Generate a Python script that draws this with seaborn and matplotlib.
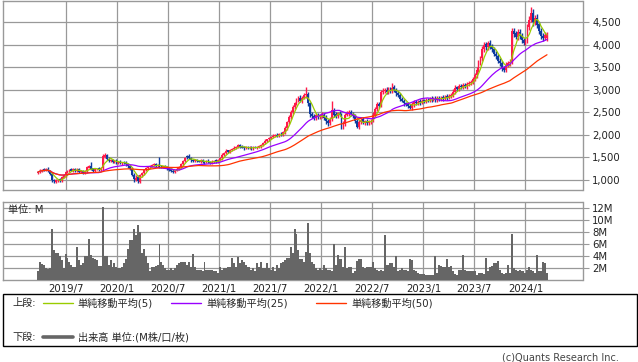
import matplotlib
matplotlib.use("Agg")
import matplotlib.pyplot as plt
from matplotlib.lines import Line2D
from matplotlib.patches import Rectangle
import numpy as np
import pandas as pd
import seaborn as sns


START_WEEK = "2019-03-25"

# weekly candles (yen)
close_px = [
    1180, 1210, 1230, 1220, 1240, 1200, 1130, 990, 970, 1000,
    1010, 980, 1060, 1110, 1180, 1200, 1230, 1210, 1240, 1200,
    1230, 1180, 1200, 1160, 1190, 1280, 1310, 1250, 1200, 1240,
    1250, 1230, 1260, 1540, 1560, 1470, 1420, 1440, 1400, 1420,
    1380, 1400, 1370, 1390, 1380, 1350, 1300, 1250, 1120, 1020,
    1050, 980, 1100, 1150, 1220, 1260, 1290, 1300, 1330, 1350,
    1310, 1340, 1300, 1290, 1300, 1280, 1260, 1230, 1200, 1180,
    1210, 1250, 1290, 1350, 1420, 1490, 1500, 1480, 1440, 1420,
    1440, 1430, 1410, 1440, 1400, 1390, 1420, 1400, 1380, 1410,
    1430, 1400, 1440, 1480, 1560, 1600, 1650, 1620, 1660, 1690,
    1720, 1740, 1770, 1740, 1720, 1700, 1730, 1710, 1720, 1700,
    1730, 1720, 1740, 1750, 1770, 1820, 1870, 1900, 1930, 1960,
    1980, 2000, 1980, 2020, 2010, 2060, 2150, 2280, 2400, 2500,
    2620, 2700, 2780, 2820, 2760, 2830, 2880, 2900, 2700, 2460,
    2420, 2380, 2440, 2400, 2420, 2440, 2380, 2300, 2260, 2350,
    2560, 2450, 2420, 2480, 2450, 2180, 2250, 2450, 2480, 2520,
    2460, 2430, 2300, 2180, 2290, 2340, 2280, 2300, 2260, 2300,
    2320, 2450, 2580, 2680, 2650, 2950, 2980, 3000, 2950, 3010,
    2980, 3050, 3000, 2920, 2880, 2800, 2760, 2700, 2680, 2650,
    2600, 2680, 2720, 2700, 2740, 2720, 2760, 2750, 2780, 2770,
    2800, 2790, 2810, 2780, 2820, 2800, 2830, 2810, 2850, 2830,
    2870, 2890, 2950, 3050, 3020, 3080, 3060, 3100, 3080, 3130,
    3150, 3180, 3250, 3320, 3450, 3600, 3700, 3900, 4000, 3950,
    4030, 3950, 3900, 3800, 3750, 3650, 3600, 3480, 3440, 3550,
    3600, 3620, 4300, 4250, 4180, 4280, 4200, 4100, 4050, 4080,
    4400, 4560, 4700, 4500, 4600, 4450, 4300, 4200, 4150, 4220,
    4240,
]
open_px = [
    1150, 1180, 1200, 1240, 1215, 1245, 1200, 1130, 1000, 965,
    995, 1015, 985, 1055, 1105, 1180, 1200, 1235, 1205, 1245,
    1195, 1235, 1180, 1205, 1160, 1190, 1275, 1315, 1255, 1200,
    1240, 1255, 1230, 1260, 1520, 1560, 1470, 1420, 1445, 1400,
    1425, 1380, 1405, 1370, 1395, 1385, 1355, 1305, 1250, 1120,
    1010, 1060, 960, 1100, 1150, 1220, 1255, 1290, 1300, 1330,
    1355, 1310, 1345, 1305, 1290, 1305, 1285, 1265, 1235, 1205,
    1180, 1210, 1250, 1290, 1350, 1420, 1530, 1540, 1485, 1445,
    1415, 1445, 1430, 1410, 1445, 1400, 1390, 1425, 1400, 1380,
    1410, 1435, 1400, 1440, 1480, 1560, 1600, 1655, 1620, 1660,
    1690, 1720, 1740, 1775, 1745, 1725, 1700, 1735, 1705, 1725,
    1700, 1735, 1715, 1740, 1750, 1770, 1820, 1870, 1900, 1930,
    1960, 1980, 2005, 1980, 2025, 2010, 2060, 2150, 2280, 2400,
    2500, 2620, 2700, 2780, 2830, 2760, 2830, 2880, 2910, 2700,
    2460, 2420, 2380, 2445, 2400, 2420, 2445, 2385, 2305, 2260,
    2350, 2560, 2455, 2420, 2485, 2450, 2180, 2250, 2450, 2480,
    2520, 2465, 2430, 2300, 2180, 2290, 2345, 2280, 2305, 2260,
    2300, 2320, 2450, 2580, 2685, 2650, 2950, 2980, 3005, 2950,
    3010, 2980, 3060, 3000, 2920, 2880, 2800, 2760, 2700, 2680,
    2650, 2600, 2680, 2725, 2700, 2745, 2720, 2765, 2750, 2785,
    2770, 2805, 2790, 2815, 2780, 2825, 2800, 2835, 2810, 2855,
    2830, 2870, 2890, 2950, 3055, 3020, 3085, 3060, 3105, 3080,
    3130, 3150, 3180, 3250, 3320, 3450, 3600, 3700, 3900, 4010,
    3950, 4035, 3955, 3900, 3800, 3750, 3650, 3600, 3485, 3440,
    3550, 3600, 3620, 4310, 4255, 4180, 4285, 4205, 4105, 4050,
    4080, 4400, 4560, 4710, 4500, 4605, 4455, 4305, 4205, 4150,
    4150,
]
# wick length above / below the body
wick_up = [
    20, 30, 20, 30, 20, 40, 30, 40, 30, 30,
    20, 30, 20, 30, 20, 30, 20, 30, 30, 20,
    30, 20, 30, 20, 30, 30, 30, 90, 20, 30,
    20, 30, 20, 40, 40, 20, 30, 20, 30, 20,
    30, 20, 30, 20, 20, 30, 20, 30, 40, 40,
    50, 60, 40, 30, 30, 20, 30, 30, 20, 30,
    30, 20, 170, 30, 20, 30, 20, 30, 20, 30,
    20, 30, 30, 20, 30, 20, 30, 30, 20, 30,
    20, 30, 20, 30, 20, 30, 20, 30, 20, 30,
    20, 30, 20, 30, 30, 30, 30, 20, 30, 20,
    30, 20, 30, 20, 30, 20, 30, 20, 30, 20,
    20, 30, 20, 30, 20, 30, 30, 20, 30, 20,
    30, 20, 30, 20, 30, 30, 40, 40, 50, 50,
    50, 40, 50, 40, 60, 40, 50, 160, 40, 40,
    40, 50, 40, 50, 40, 60, 40, 50, 40, 50,
    200, 40, 50, 40, 50, 40, 50, 40, 60, 40,
    40, 50, 40, 50, 40, 40, 50, 40, 50, 40,
    40, 50, 40, 60, 40, 50, 60, 40, 60, 50,
    60, 110, 50, 40, 50, 40, 50, 40, 40, 50,
    40, 40, 50, 40, 40, 50, 40, 40, 50, 40,
    40, 50, 40, 40, 50, 40, 40, 50, 40, 50,
    40, 50, 60, 50, 40, 50, 40, 50, 40, 50,
    40, 50, 40, 60, 50, 60, 60, 70, 70, 60,
    60, 70, 60, 50, 60, 50, 60, 50, 50, 60,
    50, 60, 80, 70, 60, 70, 60, 60, 50, 60,
    70, 80, 150, 80, 70, 70, 60, 60, 50, 60,
    40,
]
wick_dn = [
    20, 30, 20, 30, 20, 30, 30, 40, 40, 30,
    30, 20, 30, 20, 30, 20, 30, 20, 30, 20,
    20, 30, 20, 30, 20, 30, 20, 30, 20, 30,
    20, 30, 20, 30, 30, 20, 30, 20, 30, 20,
    20, 30, 20, 30, 20, 30, 40, 30, 40, 60,
    40, 40, 30, 40, 30, 30, 20, 30, 20, 30,
    30, 20, 30, 20, 30, 20, 30, 20, 30, 20,
    30, 20, 30, 20, 30, 20, 30, 20, 30, 20,
    20, 30, 20, 30, 20, 30, 20, 30, 20, 30,
    30, 20, 30, 20, 30, 20, 30, 20, 30, 20,
    20, 30, 20, 30, 20, 30, 20, 30, 20, 30,
    30, 20, 30, 20, 30, 20, 30, 20, 30, 20,
    30, 20, 30, 20, 30, 30, 40, 40, 40, 50,
    40, 50, 40, 50, 40, 50, 40, 50, 60, 60,
    50, 40, 50, 40, 50, 40, 50, 60, 70, 50,
    40, 50, 40, 50, 40, 50, 40, 50, 40, 50,
    40, 50, 40, 30, 40, 50, 40, 50, 40, 50,
    50, 40, 50, 40, 50, 40, 50, 40, 50, 40,
    40, 50, 40, 50, 40, 50, 40, 50, 40, 50,
    30, 40, 50, 40, 40, 50, 40, 40, 50, 40,
    40, 50, 40, 40, 50, 40, 40, 50, 40, 50,
    40, 50, 40, 50, 40, 50, 40, 50, 40, 50,
    40, 50, 40, 50, 50, 60, 50, 60, 50, 60,
    60, 50, 60, 50, 60, 50, 60, 50, 40, 50,
    50, 60, 50, 70, 60, 70, 60, 70, 60, 60,
    50, 70, 60, 80, 70, 80, 60, 70, 60, 50,
    60,
]
# weekly volume, millions of shares
volume_m = [
    1.5, 3.1, 2.8, 2.6, 2.0, 1.9, 2.0, 8.5, 5.1, 4.5,
    4.5, 4.1, 3.4, 2.0, 4.4, 3.7, 3.1, 2.6, 2.3, 2.3,
    5.6, 3.4, 2.6, 2.9, 4.1, 4.1, 6.9, 4.2, 3.7, 3.5,
    3.4, 2.4, 2.4, 12.2, 4.0, 4.0, 2.6, 3.4, 2.3, 2.9,
    2.3, 2.0, 2.0, 2.3, 2.9, 3.5, 5.3, 6.7, 6.7, 8.5,
    7.5, 9.2, 8.1, 4.5, 5.3, 4.0, 2.9, 1.5, 2.3, 2.3,
    2.4, 2.6, 6.0, 3.1, 2.6, 2.0, 1.8, 1.8, 2.0, 1.8,
    2.0, 2.6, 2.9, 3.1, 3.1, 3.0, 2.6, 3.1, 2.3, 4.4,
    2.3, 1.8, 1.8, 1.8, 1.5, 3.0, 1.8, 1.7, 1.7, 1.7,
    1.5, 1.5, 1.3, 2.3, 1.8, 2.0, 2.0, 2.3, 2.3, 3.7,
    2.9, 2.3, 3.9, 2.9, 3.4, 3.1, 2.6, 2.3, 2.3, 1.8,
    2.0, 1.5, 2.9, 2.3, 3.0, 2.0, 2.0, 2.9, 2.0, 1.8,
    2.3, 1.5, 2.6, 2.0, 2.9, 3.1, 3.4, 3.7, 3.7, 5.6,
    4.5, 8.5, 7.8, 5.0, 3.5, 3.5, 3.1, 4.8, 9.6, 4.6,
    3.1, 2.8, 2.0, 1.8, 2.0, 1.8, 2.6, 2.0, 1.8, 1.8,
    1.5, 6.0, 2.6, 4.2, 3.5, 3.5, 2.3, 5.6, 2.0, 2.3,
    2.3, 1.2, 1.5, 3.2, 3.5, 3.5, 2.3, 2.1, 2.3, 2.3,
    2.3, 3.1, 2.0, 1.8, 1.5, 1.8, 1.5, 7.5, 2.6, 2.6,
    2.9, 2.9, 2.3, 4.0, 1.5, 1.7, 2.0, 1.8, 1.8, 1.5,
    3.5, 3.4, 1.7, 1.5, 1.3, 1.1, 1.1, 1.1, 0.9, 0.9,
    0.9, 0.9, 0.9, 4.0, 1.2, 2.6, 2.4, 2.3, 2.3, 3.5,
    2.3, 2.4, 1.5, 1.1, 0.9, 1.7, 1.7, 4.2, 1.7, 1.5,
    1.5, 1.5, 1.5, 1.5, 0.9, 1.2, 1.3, 1.3, 1.1, 3.7,
    1.5, 2.3, 2.4, 2.9, 2.9, 3.2, 1.8, 1.2, 1.1, 1.2,
    2.6, 1.2, 7.7, 2.0, 1.8, 1.5, 1.7, 1.5, 1.5, 1.2,
    1.8, 2.3, 1.7, 1.5, 1.2, 4.2, 1.5, 1.5, 3.1, 2.9,
    1.2,
]

month_ticks = ["2019/7", "2020/1", "2020/7", "2021/1", "2021/7",
               "2022/1", "2022/7", "2023/1", "2023/7", "2024/1"]
price_ticks = [1000, 1500, 2000, 2500, 3000, 3500, 4000, 4500]
volume_ticks = [2, 4, 6, 8, 10, 12]
ma_windows = [5, 25, 50]
ma_colors = ["#99cc00", "#9900ff", "#ff3300"]

UP_COLOR = "#ff1a4a"
DOWN_COLOR = "#0f3c9f"
GRID_COLOR = "#999999"
VOL_COLOR = "#666666"
W, H = 638, 362

df = pd.DataFrame({
    "open": open_px,
    "close": close_px,
    "volume": volume_m,
})
df["high"] = df[["open", "close"]].max(axis=1) + np.array(wick_up)
df["low"] = df[["open", "close"]].min(axis=1) - np.array(wick_dn)
df["date"] = pd.date_range(START_WEEK, periods=len(df), freq="W-MON")
for w in ma_windows:
    df[f"ma{w}"] = df["close"].rolling(w, min_periods=1).mean()

sns.set_style("white")
plt.rcParams["font.family"] = ["DejaVu Sans", "Noto Sans CJK JP"]
FS = 7.3


def frame(x0, y0, x1, y1):
    return [x0 / W, 1 - y1 / H, (x1 - x0) / W, (y1 - y0) / H]


fig = plt.figure(figsize=(W / 100, H / 100), dpi=100)
ax = fig.add_axes(frame(3.3, 0.5, 582.5, 190.3))
axv = fig.add_axes(frame(3.3, 201.7, 582.5, 280.3), sharex=ax)

x0 = pd.Timestamp(START_WEEK)
xlim = (x0 - pd.Timedelta(days=124.6), x0 + pd.Timedelta(days=1947))
tick_dates = [pd.to_datetime(t, format="%Y/%m") for t in month_ticks]

# candles
up = df["close"] >= df["open"]
colors = np.where(up, UP_COLOR, DOWN_COLOR)
body_low = df[["open", "close"]].min(axis=1)
body_h = (df["close"] - df["open"]).abs()
ax.vlines(df["date"], df["low"], df["high"], colors=colors, lw=1.0, zorder=3)
ax.bar(df["date"], body_h, bottom=body_low, width=6.5, color=colors, lw=0, zorder=3)

for w, c in zip(ma_windows, ma_colors):
    sns.lineplot(data=df, x="date", y=f"ma{w}", color=c, lw=0.9, ax=ax, zorder=4)

ax.set_xlim(*xlim)
ax.set_ylim(771, 4984)
ax.set_yticks(price_ticks)
ax.set_yticklabels([f"{v:,}" for v in price_ticks])
ax.set_xticks(tick_dates)
ax.yaxis.tick_right()
ax.tick_params(axis="y", length=4, color=GRID_COLOR, labelsize=FS, pad=3, labelcolor="#222222")
ax.tick_params(axis="x", length=0, labelbottom=False)
ax.grid(True, color=GRID_COLOR, lw=0.9)
ax.set_xlabel("")
ax.set_ylabel("")

# volume
axv.bar(df["date"], df["volume"], width=7, color=VOL_COLOR, lw=0, zorder=3)
axv.set_ylim(0, 13.1)
axv.set_yticks(volume_ticks)
axv.set_yticklabels([f"{v}M" for v in volume_ticks])
axv.set_xticks(tick_dates)
axv.set_xticklabels(month_ticks)
axv.yaxis.tick_right()
axv.tick_params(axis="y", length=4, color=GRID_COLOR, labelsize=FS, pad=3, labelcolor="#222222")
axv.tick_params(axis="x", length=0, labelsize=FS, pad=3, labelcolor="#222222")
axv.grid(True, color=GRID_COLOR, lw=0.9)
axv.set_xlim(*xlim)
axv.text(0.008, 0.9, "単位: M", transform=axv.transAxes, fontsize=FS, va="center", ha="left")

for a in (ax, axv):
    for s in a.spines.values():
        s.set_color(GRID_COLOR)
        s.set_linewidth(1.0)

# legend box
fig.add_artist(Rectangle((3.3 / W, 1 - 346 / H), (637 - 3.3) / W, (346 - 294) / H,
                         transform=fig.transFigure, fill=False, ec="black", lw=1))
row1, row2 = 1 - 303 / H, 1 - 337 / H
fig.text(12 / W, row1, "上段:", fontsize=FS, va="center")
legend_x = [(43, 77.5), (171, 206), (316, 351)]
for (lx, tx), w, c in zip(legend_x, ma_windows, ma_colors):
    fig.add_artist(Line2D([lx / W, (lx + 30) / W], [row1, row1], color=c, lw=1, transform=fig.transFigure))
    fig.text(tx / W, row1, f"単純移動平均({w})", fontsize=FS, va="center")
fig.text(12 / W, row2, "下段:", fontsize=FS, va="center")
fig.add_artist(Line2D([43 / W, 73 / W], [row2, row2], color=VOL_COLOR, lw=2.6, transform=fig.transFigure))
fig.text(77.5 / W, row2, "出来高 単位:(M株/口/枚)", fontsize=FS, va="center")

fig.text(619 / W, 1 - 357 / H, "(c)Quants Research Inc.", fontsize=7, ha="right", va="center", color="#444444")

fig.savefig("out.png", dpi=100)
